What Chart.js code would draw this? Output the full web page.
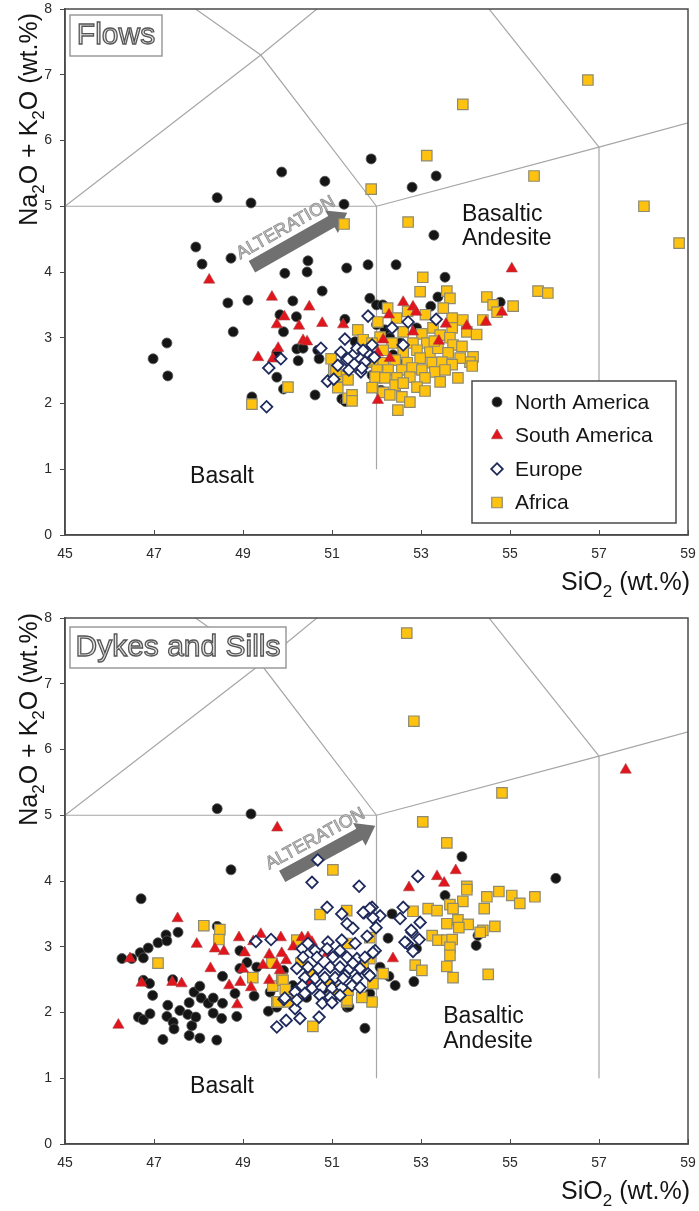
<!DOCTYPE html>
<html>
<head>
<meta charset="utf-8">
<script src="https://cdn.jsdelivr.net/npm/chart.js@4.4.1/dist/chart.umd.min.js"></script>
<style>
body { margin: 0; background: #fff; width: 699px; height: 1211px; overflow: hidden; position: relative; }
canvas { position: absolute; left: 0; }
#flows { top: 0; }
#dykes { top: 605px; }
</style>
</head>
<body>
<canvas id="flows" width="699" height="605"></canvas>
<canvas id="dykes" width="699" height="606"></canvas>
<script>
// axis ranges / ticks
var xMin = 45, xMax = 59, xStep = 2;
var yMin = 0, yMax = 8, yStep = 1;
var seriesNames = ["North America", "South America", "Europe", "Africa"];

// TAS field boundaries (SiO2, Na2O+K2O)
var tasLines = [
	[[45, 5], [52, 5]],
	[[52, 1], [52, 5]],
	[[52, 5], [57, 5.9], [63, 7]],
	[[57, 1], [57, 5.9]],
	[[45, 5], [49.4, 7.3], [53, 9.3]],
	[[52, 5], [49.4, 7.3], [45, 9.4]],
	[[57, 5.9], [53, 9.3]]
];

// ---- Flows ----
var flowsNA = [[46.98,2.68],[47.29,2.92],[47.31,2.42],[47.94,4.38],[48.08,4.12],[48.42,5.13],[48.66,3.53],[48.73,4.21],[48.78,3.09],[49.11,3.57],[49.18,5.05],[49.2,2.1],[49.76,2.77],[49.76,2.4],[49.83,3.35],[49.87,5.52],[49.91,3.09],[49.91,2.22],[49.94,3.98],[50.12,3.56],[50.2,3.32],[50.21,2.83],[50.35,2.84],[50.24,2.65],[50.44,4.0],[50.46,4.17],[50.62,2.13],[50.68,2.81],[50.71,2.68],[50.78,3.71],[50.84,5.38],[51.22,2.07],[51.29,3.28],[51.27,5.03],[51.33,4.06],[51.52,2.94],[51.81,4.11],[51.85,3.6],[51.88,5.72],[51.9,2.43],[51.92,2.28],[52.0,3.5],[52.0,3.2],[52.14,3.5],[52.19,3.12],[52.3,3.0],[52.37,2.74],[52.44,4.11],[52.53,2.92],[52.8,5.29],[52.9,3.15],[53.22,3.48],[53.29,4.56],[53.34,5.46],[53.38,3.62],[53.54,3.92],[54.78,3.54],[52.6,2.6],[52.1,2.2],[51.3,2.03]];
var flowsSA = [[48.24,3.88],[49.34,2.7],[49.65,3.62],[49.67,2.68],[49.76,3.2],[49.79,2.84],[49.93,3.32],[50.26,3.18],[50.35,2.96],[50.44,2.94],[50.49,3.47],[50.78,3.22],[51.25,3.2],[52.03,2.05],[52.03,2.77],[52.15,2.97],[52.28,3.35],[52.3,2.69],[52.6,3.54],[52.82,3.47],[52.89,3.39],[52.82,3.09],[53.4,2.95],[53.56,3.21],[54.03,3.18],[54.46,3.24],[54.82,3.39],[55.04,4.05]];
var flowsEU = [[49.53,1.95],[49.58,2.54],[49.85,2.68],[50.75,2.84],[50.9,2.34],[51.04,2.37],[51.13,2.58],[51.29,2.98],[51.33,2.66],[51.38,2.51],[51.49,2.75],[51.56,2.84],[51.65,2.48],[51.74,2.63],[51.79,2.78],[51.81,3.33],[51.9,2.89],[51.67,2.54],[51.36,2.68],[51.7,2.81],[52.35,3.15],[52.6,2.89],[52.71,3.24],[53.34,3.28],[51.5,2.6],[51.2,2.78],[51.95,2.7]];
var flowsAF = [[56.75,6.92],[53.94,6.55],[53.13,5.77],[51.88,5.26],[55.54,5.46],[58.01,5.0],[58.8,4.44],[51.27,4.73],[52.71,4.76],
	[49.2,1.99],[50.01,2.25],[50.98,2.68],[51.04,2.51],[51.18,2.41],[51.13,2.24],[51.36,2.36],[51.36,2.08],[51.58,3.12],[51.7,2.97],[51.09,2.49],[51.45,2.13],[51.45,2.04],[51.99,2.39],[51.92,2.63],
	[53.04,3.92],[53.58,3.71],[53.65,3.6],[52.98,3.7],[54.48,3.62],[54.62,3.5],[55.07,3.48],[55.63,3.71],[55.85,3.68],[54.71,3.39],[54.39,3.27],[52.03,3.24],[52.6,3.09],[53.02,3.06],[53.27,3.15],[53.7,3.3],[53.7,3.15],[53.94,3.27],[54.03,3.09],[53.43,3.04],[52.08,3.01],[52.35,2.92],[52.82,2.92],[53.13,2.92],[53.65,3.0],[53.72,2.89],[53.92,2.87],[51.9,2.92],[52.15,2.81],[52.6,2.78],[52.91,2.81],[53.2,2.78],[53.38,2.84],[53.61,2.77],[54.17,2.71],[54.1,2.63],[53.88,2.69],[51.97,2.63],[52.15,2.62],[52.42,2.66],[52.69,2.62],[52.98,2.69],[53.25,2.62],[53.47,2.63],[53.7,2.59],[52.01,2.51],[52.26,2.51],[52.57,2.51],[52.8,2.54],[53.02,2.51],[53.31,2.48],[53.54,2.51],[51.97,2.4],[52.19,2.39],[52.46,2.39],[52.75,2.4],[53.09,2.39],[53.43,2.33],[53.83,2.39],[52.42,2.28],[52.6,2.31],[52.91,2.25],[52.15,2.17],[53.09,2.19],[52.3,2.13],[52.57,2.1],[52.75,2.02],[52.48,1.9],[51.9,2.24],[54.15,2.57],[52.25,3.45],[52.45,3.3],[53.1,3.35],[52.7,3.4],[53.5,3.45],[54.25,3.05],[53.3,2.95]];

// ---- Dykes and Sills ----
var dykesNA = [[46.28,2.82],[46.5,2.82],[46.69,2.91],[46.76,2.83],[46.71,3.73],[46.87,2.98],[47.09,3.06],[47.27,3.18],[47.29,3.09],[47.54,3.22],[48.42,3.31],[46.76,2.49],[46.9,2.44],[46.97,2.26],[46.65,1.93],[46.76,1.89],[46.91,1.98],[47.42,2.5],[47.31,2.11],[47.29,1.94],[47.43,1.85],[47.45,1.75],[47.58,2.03],[47.76,1.97],[47.85,1.8],[47.2,1.59],[47.79,1.65],[48.03,1.61],[48.41,1.58],[47.79,2.15],[47.9,2.31],[48.03,2.4],[48.06,2.22],[48.22,2.14],[48.33,2.22],[48.33,1.99],[48.54,2.14],[48.52,1.91],[47.94,1.93],[48.54,2.55],[48.93,2.94],[49.09,2.76],[48.93,2.67],[48.82,2.29],[48.86,1.94],[49.25,2.25],[49.31,2.69],[49.57,2.02],[49.61,2.31],[49.91,2.64],[50.12,2.41],[50.43,2.23],[51.34,2.08],[49.76,2.08],[48.42,5.1],[49.18,5.02],[48.73,4.17],[53.92,4.37],[56.03,4.04],[53.54,3.78],[52.35,3.5],[52.26,3.13],[52.9,2.97],[52.08,2.69],[52.28,2.55],[52.42,2.41],[52.84,2.47],[51.74,1.76],[51.38,2.09],[51.85,2.29],[54.28,3.17],[54.24,3.02],[51.0,2.2],[50.8,2.35]];
var dykesSA = [[46.2,1.81],[46.46,2.82],[46.72,2.45],[47.53,3.43],[47.41,2.46],[47.62,2.44],[47.96,3.04],[48.37,2.97],[48.27,2.67],[48.57,2.93],[48.69,2.41],[48.91,3.14],[49.04,2.91],[48.94,2.46],[48.87,2.12],[49.18,2.38],[49.0,2.66],[49.4,3.19],[49.23,3.08],[49.45,2.72],[49.59,2.88],[49.59,2.49],[49.85,3.14],[49.76,2.72],[49.83,2.64],[49.97,2.79],[49.87,2.9],[50.13,3.0],[50.32,3.14],[50.46,3.14],[50.55,3.07],[49.77,4.81],[52.37,2.82],[52.73,3.9],[53.36,4.07],[53.52,3.97],[53.78,4.16],[57.6,5.69],[50.5,2.45],[50.9,2.9]];
var dykesEU = [[49.29,3.08],[49.63,3.11],[49.92,2.2],[49.76,1.78],[49.97,1.88],[50.17,2.06],[50.28,1.91],[50.71,1.93],[50.68,4.32],[50.55,3.98],[51.61,3.92],[52.93,4.07],[50.89,3.6],[51.22,3.5],[51.72,3.52],[51.9,3.6],[52.08,3.47],[52.6,3.6],[52.53,3.43],[52.98,3.37],[51.34,3.35],[51.47,3.28],[51.92,3.44],[51.99,3.29],[51.79,3.16],[51.52,3.05],[52.8,3.22],[52.96,3.11],[52.69,3.05],[52.82,2.93],[50.91,3.07],[51.22,3.1],[51.18,2.94],[51.02,2.84],[51.34,2.84],[51.56,2.82],[51.97,2.94],[50.33,2.97],[50.46,3.05],[50.62,2.94],[50.66,2.84],[50.89,2.97],[50.35,2.84],[50.21,2.67],[50.46,2.69],[50.69,2.67],[50.96,2.69],[51.18,2.69],[51.4,2.67],[51.63,2.67],[51.81,2.59],[50.39,2.53],[50.62,2.52],[50.84,2.53],[51.07,2.53],[51.29,2.56],[51.56,2.52],[50.33,2.41],[50.55,2.37],[50.78,2.38],[51.0,2.37],[51.22,2.38],[51.45,2.41],[50.17,2.31],[50.39,2.29],[50.73,2.26],[50.96,2.23],[51.18,2.26],[49.94,2.22],[50.21,2.19],[50.78,2.14],[51.0,2.15],[51.92,2.91],[51.74,2.84],[51.47,2.75],[51.25,2.52],[51.85,2.56],[51.63,2.38],[51.85,3.58],[51.7,3.52],[52.64,3.07],[52.78,3.25]];
var dykesAF = [[47.09,2.75],[48.12,3.32],[48.48,3.26],[48.46,3.11],[49.22,2.53],[49.67,2.4],[49.87,2.52],[49.76,2.16],[49.9,2.49],[49.79,2.16],[50.0,2.16],[50.57,1.79],[50.73,3.49],[51.33,3.55],[50.21,3.1],[49.65,2.75],[51.33,2.16],[51.02,4.17],[51.34,3.05],[51.85,3.14],[51.85,2.82],[52.15,2.59],[51.92,2.44],[51.9,2.16],[51.67,2.23],[51.34,2.19],[51.36,2.34],[51.7,2.69],[52.68,7.77],[52.84,6.43],[54.82,5.34],[53.04,4.9],[53.58,4.58],[54.03,3.92],[54.03,3.87],[54.48,3.76],[54.75,3.84],[55.04,3.78],[55.56,3.76],[55.22,3.66],[52.82,3.54],[53.16,3.58],[53.36,3.55],[53.65,3.64],[53.94,3.69],[53.72,3.58],[54.42,3.58],[53.58,3.35],[53.83,3.41],[54.06,3.34],[53.85,3.29],[54.39,3.25],[54.66,3.31],[54.33,3.22],[53.25,3.17],[53.38,3.1],[53.58,3.1],[53.7,3.11],[53.65,2.99],[53.65,2.87],[52.87,2.72],[53.02,2.64],[53.58,2.7],[53.72,2.53],[54.51,2.58],[50.5,2.6],[50.3,2.75],[50.9,2.45],[51.1,2.35],[49.95,2.35],[50.2,2.25]];

// annotation arrows [from, to] in data units
var flowsArrow = [[49.2, 4.08], [51.34, 4.9]];
var dykesArrow = [[49.88, 4.07], [51.97, 4.84]];

var FONT = '"Liberation Sans", Arial, Helvetica, sans-serif';
var styles = [
	{ shape: "circle", radius: 5, fill: "#151515", stroke: "#555", width: 0.8, order: 3 },
	{ shape: "triangle", radius: 6.5, fill: "#e2141c", stroke: "#a84444", width: 0.6, order: 1 },
	{ shape: "rectRot", radius: 5.8, fill: "#ffffff", stroke: "#1f2a5c", width: 1.8, order: 0 },
	{ shape: "rect", radius: 7.4, fill: "#ffc20f", stroke: "#8e8a72", width: 1.2, order: 2 }
];

function toXY(arr) {
	return arr.map(function(p) { return { x: p[0], y: p[1] }; });
}

function drawMarker(ctx, st, x, y) {
	var r = st.radius;
	ctx.save();
	ctx.beginPath();
	if (st.shape == "circle") {
		ctx.arc(x, y, r, 0, Math.PI * 2);
	} else if (st.shape == "triangle") {
		for (var i = 0; i < 3; i++) {
			var a = i * Math.PI * 2 / 3;
			ctx[i ? "lineTo" : "moveTo"](x + Math.sin(a) * r, y - Math.cos(a) * r);
		}
		ctx.closePath();
	} else if (st.shape == "rectRot") {
		ctx.moveTo(x, y - r); ctx.lineTo(x + r, y); ctx.lineTo(x, y + r); ctx.lineTo(x - r, y);
		ctx.closePath();
	} else {
		var s = r * Math.SQRT1_2;
		ctx.rect(x - s, y - s, 2 * s, 2 * s);
	}
	ctx.fillStyle = st.fill;
	ctx.fill();
	ctx.lineWidth = st.width;
	ctx.strokeStyle = st.stroke;
	ctx.stroke();
	ctx.restore();
}

// draws text with subscript parts: [["Na",0],["2",1],...]
function subText(ctx, parts, size, measureOnly) {
	var w = 0;
	parts.forEach(function(p) {
		var fs = p[1] ? Math.round(size * 0.68) : size;
		ctx.font = fs + "px " + FONT;
		if (!measureOnly) ctx.fillText(p[0], w, p[1] ? size * 0.28 : 0);
		w += ctx.measureText(p[0]).width;
	});
	return w;
}

var decorPlugin = {
	id: "decor",
	beforeDatasetsDraw: function(chart, args, o) {
		var ctx = chart.ctx, a = chart.chartArea;
		var sx = chart.scales.x, sy = chart.scales.y;
		ctx.save();
		ctx.beginPath();
		ctx.rect(a.left, a.top, a.right - a.left, a.bottom - a.top);
		ctx.clip();
		// TAS boundaries
		ctx.strokeStyle = "#a6a6a6";
		ctx.lineWidth = 1.2;
		tasLines.forEach(function(line) {
			ctx.beginPath();
			line.forEach(function(p, i) {
				ctx[i ? "lineTo" : "moveTo"](sx.getPixelForValue(p[0]), sy.getPixelForValue(p[1]));
			});
			ctx.stroke();
		});
		ctx.restore();

		// panel title box
		ctx.save();
		var bx = a.left + 5, by = a.top + o.boxTop;
		ctx.fillStyle = "#fff";
		ctx.fillRect(bx, by, o.boxW, 41);
		ctx.strokeStyle = "#9a9a9a";
		ctx.lineWidth = 1.5;
		ctx.strokeRect(bx, by, o.boxW, 41);
		ctx.font = "30px " + FONT;
		ctx.textAlign = "center";
		ctx.textBaseline = "middle";
		ctx.fillStyle = "#e4e4e4";
		ctx.fillText(o.title, bx + o.boxW / 2, by + 21);
		ctx.strokeStyle = "#555";
		ctx.lineWidth = 1.3;
		ctx.strokeText(o.title, bx + o.boxW / 2, by + 21);
		ctx.restore();

		// field labels
		ctx.save();
		ctx.fillStyle = "#151515";
		ctx.font = "23px " + FONT;
		ctx.textBaseline = "middle";
		ctx.textAlign = "left";
		o.labels.forEach(function(l) {
			ctx.fillText(l[0], sx.getPixelForValue(l[1]), sy.getPixelForValue(l[2]));
		});
		ctx.restore();

		// alteration arrow
		var p0 = [sx.getPixelForValue(o.arrow[0][0]), sy.getPixelForValue(o.arrow[0][1])];
		var p1 = [sx.getPixelForValue(o.arrow[1][0]), sy.getPixelForValue(o.arrow[1][1])];
		var dx = p1[0] - p0[0], dy = p1[1] - p0[1], len = Math.sqrt(dx * dx + dy * dy);
		var ux = dx / len, uy = dy / len, nx = -uy, ny = ux;
		var hw = 6.5, hh = 13, hl = 18;
		var bxp = p1[0] - ux * hl, byp = p1[1] - uy * hl;
		ctx.save();
		ctx.fillStyle = "#707070";
		ctx.beginPath();
		ctx.moveTo(p0[0] + nx * hw, p0[1] + ny * hw);
		ctx.lineTo(bxp + nx * hw, byp + ny * hw);
		ctx.lineTo(bxp + nx * hh, byp + ny * hh);
		ctx.lineTo(p1[0], p1[1]);
		ctx.lineTo(bxp - nx * hh, byp - ny * hh);
		ctx.lineTo(bxp - nx * hw, byp - ny * hw);
		ctx.lineTo(p0[0] - nx * hw, p0[1] - ny * hw);
		ctx.closePath();
		ctx.fill();
		var mx = (p0[0] + p1[0]) / 2 - ux * 6 - nx * 17, my = (p0[1] + p1[1]) / 2 - uy * 6 - ny * 17;
		ctx.translate(mx, my);
		ctx.rotate(Math.atan2(dy, dx));
		ctx.font = "18px " + FONT;
		ctx.textAlign = "center";
		ctx.textBaseline = "middle";
		ctx.fillStyle = "#c9c9c9";
		ctx.fillText("ALTERATION", 0, 0);
		ctx.strokeStyle = "#8d8d8d";
		ctx.lineWidth = 0.8;
		ctx.strokeText("ALTERATION", 0, 0);
		ctx.restore();
	},
	afterDraw: function(chart, args, o) {
		var ctx = chart.ctx, a = chart.chartArea;
		var sx = chart.scales.x;
		ctx.save();
		// frame
		ctx.strokeStyle = "#4a4a4a";
		ctx.lineWidth = 1.5;
		ctx.strokeRect(a.left, a.top, a.right - a.left, a.bottom - a.top);
		// inward x ticks
		ctx.lineWidth = 1;
		for (var v = xMin; v <= xMax; v += xStep) {
			var px = Math.round(sx.getPixelForValue(v)) + 0.5;
			ctx.beginPath();
			ctx.moveTo(px, a.bottom);
			ctx.lineTo(px, a.bottom - 5);
			ctx.stroke();
		}
		ctx.restore();

		// axis titles
		ctx.save();
		ctx.fillStyle = "#151515";
		ctx.textBaseline = "alphabetic";
		var xt = [["SiO", 0], ["2", 1], [" (wt.%)", 0]];
		var w = subText(ctx, xt, 25, true);
		ctx.translate(690 - w, a.bottom + 55);
		subText(ctx, xt, 25);
		ctx.restore();

		ctx.save();
		ctx.fillStyle = "#151515";
		var yt = [["Na", 0], ["2", 1], ["O + K", 0], ["2", 1], ["O (wt.%)", 0]];
		var wy = subText(ctx, yt, 25, true);
		ctx.translate(37, o.yTitleTop + wy);
		ctx.rotate(-Math.PI / 2);
		subText(ctx, yt, 25);
		ctx.restore();

		// legend
		if (o.legend) {
			ctx.save();
			var lx = a.right - 216, ly = a.bottom - 154;
			ctx.fillStyle = "#fff";
			ctx.fillRect(lx, ly, 204, 142);
			ctx.strokeStyle = "#4a4a4a";
			ctx.lineWidth = 1.5;
			ctx.strokeRect(lx, ly, 204, 142);
			ctx.font = "21px " + FONT;
			ctx.textBaseline = "middle";
			seriesNames.forEach(function(name, i) {
				var cy = ly + 21 + i * 33.5;
				drawMarker(ctx, styles[i], lx + 25, cy);
				ctx.fillStyle = "#151515";
				ctx.fillText(name, lx + 43, cy + 1);
			});
			ctx.restore();
		}
	}
};

function makePanel(id, series, opts) {
	var datasets = series.map(function(pts, i) {
		var st = styles[i];
		return {
			label: seriesNames[i],
			data: toXY(pts),
			order: st.order,
			pointStyle: st.shape,
			pointRadius: st.radius,
			pointBackgroundColor: st.fill,
			pointBorderColor: st.stroke,
			pointBorderWidth: st.width,
			showLine: false
		};
	});
	return new Chart(document.getElementById(id).getContext("2d"), {
		type: "scatter",
		data: { datasets: datasets },
		plugins: [decorPlugin],
		options: {
			responsive: false,
			animation: false,
			events: [],
			layout: { padding: { top: opts.padTop, right: 11, left: 0, bottom: 0 } },
			plugins: {
				legend: { display: false },
				tooltip: { enabled: false },
				decor: opts
			},
			scales: {
				x: {
					type: "linear",
					min: xMin, max: xMax,
					afterFit: function(s) { s.height = opts.xAxisH; s.paddingLeft = 0; s.paddingRight = 0; },
					grid: { drawOnChartArea: false, drawTicks: false },
					border: { color: "#4a4a4a", width: 1.5 },
					ticks: { stepSize: xStep, padding: 11, color: "#2a2a2a", font: { family: FONT, size: 14 } }
				},
				y: {
					type: "linear",
					min: yMin, max: yMax,
					afterFit: function(s) { s.width = 65; s.paddingTop = 0; s.paddingBottom = 0; },
					grid: { drawOnChartArea: false, tickLength: 5, color: "#4a4a4a" },
					border: { color: "#4a4a4a", width: 1.5 },
					ticks: { stepSize: yStep, padding: 8, color: "#2a2a2a", font: { family: FONT, size: 14 } }
				}
			}
		}
	});
}

makePanel("flows", [flowsNA, flowsSA, flowsEU, flowsAF], {
	padTop: 9, xAxisH: 70, title: "Flows", boxTop: 6, boxW: 92, yTitleTop: 13, legend: true,
	arrow: flowsArrow,
	labels: [["Basalt", 47.81, 0.88], ["Basaltic", 53.92, 4.87], ["Andesite", 53.92, 4.5]]
});
makePanel("dykes", [dykesNA, dykesSA, dykesEU, dykesAF], {
	padTop: 13, xAxisH: 67, title: "Dykes and Sills", boxTop: 9, boxW: 216, yTitleTop: 8, legend: false,
	arrow: dykesArrow,
	labels: [["Basalt", 47.81, 0.87], ["Basaltic", 53.5, 1.93], ["Andesite", 53.5, 1.55]]
});
</script>
</body>
</html>
